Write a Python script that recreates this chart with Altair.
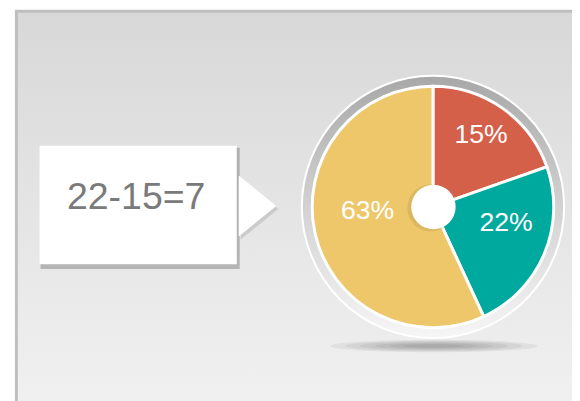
import altair as alt
import pandas as pd

# ---- data ----
categories = ["A", "B", "C"]
shares = [19.6, 23.5, 56.9]          # slice sizes as drawn
labels = ["15%", "22%", "63%"]      # printed labels
colors = ["#d5604a", "#00a99d", "#eec76b"]
callout_text = "22-15=7"

pie_df = pd.DataFrame({"cat": categories, "share": shares, "label": labels,
                       "idx": list(range(len(categories)))})
one = pd.DataFrame({"k": [0]})

CX, CY = 431, 199  # pie centre (chart pixels)

def lin(stops, y2=1):
    return alt.LinearGradient(
        gradient="linear",
        stops=[alt.GradientStop(color=c, offset=o) for o, c in stops],
        x1=0, x2=0, y1=0, y2=y2)

panel = alt.Chart(one).mark_rect(
    fill=lin([(0, "#d8d8d8"), (0.78, "#f0f0f0"), (1, "#f0f0f0")]),
    stroke="#bebebe", strokeWidth=3
).encode(x=alt.value(8.5), x2=alt.value(700), y=alt.value(0.5), y2=alt.value(500))

box_shadow = alt.Chart(one).mark_rect(fill="#8a8a8a", opacity=0.55).encode(
    x=alt.value(33), x2=alt.value(235), y=alt.value(139), y2=alt.value(262))
box = alt.Chart(one).mark_rect(fill="white").encode(
    x=alt.value(32), x2=alt.value(232), y=alt.value(137), y2=alt.value(257))

tri_path = "M-0.613,-1L0.613,0L-0.613,1Z"
tri_shadow = alt.Chart(one).mark_point(
    shape=tri_path, size=3844, filled=True, fill="#9a9a9a", opacity=0.35, strokeWidth=0
).encode(x=alt.value(255), y=alt.value(201))
tri = alt.Chart(one).mark_point(
    shape=tri_path, size=3844, filled=True, fill="white", opacity=1, strokeWidth=0
).encode(x=alt.value(253), y=alt.value(198))

callout = alt.Chart(one).mark_text(
    text=callout_text, font="Liberation Sans", fontSize=38, color="#7a7a7a",
    align="center", baseline="middle"
).encode(x=alt.value(130), y=alt.value(190))

# soft elliptical shadow under the pie, built from translucent ellipses
ell_path = "M-1,0A1,0.06,0,1,1,1,0A1,0.06,0,1,1,-1,0Z"
shadow_layers = [
    alt.Chart(one).mark_point(
        shape=ell_path, size=w * w, filled=True, fill="#3a3a3a",
        opacity=0.07, strokeWidth=0
    ).encode(x=alt.value(CX + 1), y=alt.value(340))
    for w in (210, 180, 150, 120, 90, 60)
]

ring = alt.Chart(one).mark_arc(
    theta=0, theta2=6.2832, radius=133, innerRadius=0,
    fill=lin([(0, "#a8a8a8"), (0.5, "#d2d2d2"), (1, "#f6f6f6")]),
    stroke="white", strokeWidth=2
).encode(x=alt.value(CX), y=alt.value(CY))

slices = alt.Chart(pie_df).mark_arc(radius=122.5, stroke="white", strokeWidth=3).encode(
    theta=alt.Theta("share:Q", stack=True),
    order=alt.Order("idx:Q"),
    color=alt.Color("cat:N", scale=alt.Scale(domain=categories, range=colors), legend=None),
    x=alt.value(CX), y=alt.value(CY))

slice_labels = alt.Chart(pie_df).mark_text(
    radius=74, dx=6, dy=-12, font="Liberation Sans", fontSize=27, color="white",
    align="center", baseline="middle"
).encode(
    theta=alt.Theta("share:Q", stack=True),
    order=alt.Order("idx:Q"),
    text="label:N",
    x=alt.value(CX), y=alt.value(CY))

hole_shadow = alt.Chart(one).mark_arc(
    theta=0, theta2=6.2832, radius=24, fill="black", opacity=0.08
).encode(x=alt.value(CX - 2), y=alt.value(CY + 1))
hole = alt.Chart(one).mark_arc(
    theta=0, theta2=6.2832, radius=22.5, fill="white"
).encode(x=alt.value(CX + 0.5), y=alt.value(CY))

chart = alt.layer(
    panel, box_shadow, box, tri_shadow, tri, callout,
    *shadow_layers, ring, slices, slice_labels, hole_shadow, hole
).properties(
    width=572, height=393,
    autosize=alt.AutoSizeParams(type="none"),
    padding=0, background="white"
).configure_view(stroke=None)

chart.save("out.html", embed_options={"renderer": "svg", "actions": False})
